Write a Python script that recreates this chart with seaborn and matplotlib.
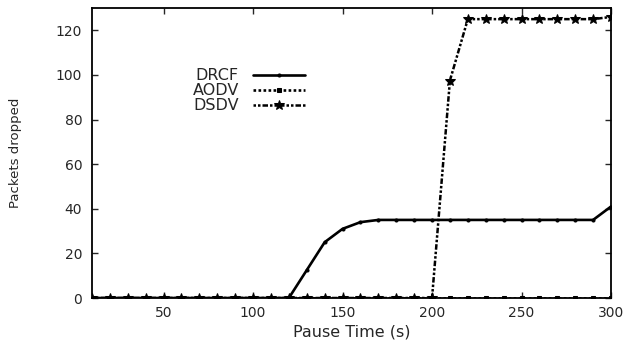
import matplotlib
matplotlib.use("Agg")
import matplotlib.pyplot as plt
import seaborn as sns
import pandas as pd

pause_time = [10, 20, 30, 40, 50, 60, 70, 80, 90, 100, 110, 120, 130, 140, 150,
              160, 170, 180, 190, 200, 210, 220, 230, 240, 250, 260, 270, 280, 290, 300]
drcf = [0, 0, 0, 0, 0, 0, 0, 0, 0, 0, 0, 0, 12.5, 25, 31,
        34, 35, 35, 35, 35, 35, 35, 35, 35, 35, 35, 35, 35, 35, 41]
aodv = [0] * 30
dsdv = [0, 0, 0, 0, 0, 0, 0, 0, 0, 0, 0, 0, 0, 0, 0,
        0, 0, 0, 0, 0, 97.5, 125, 125, 125, 125, 125, 125, 125, 125, 126]

series_names = ["DRCF", "AODV", "DSDV"]
series_values = [drcf, aodv, dsdv]
x_ticks = [50, 100, 150, 200, 250, 300]
y_ticks = [0, 20, 40, 60, 80, 100, 120]

sns.set_style("ticks")
plt.rcParams['font.family'] = ['DejaVu Sans']

fig = plt.figure(figsize=(6.26, 3.45), dpi=100)
ax = fig.add_axes([92/626, 1 - 298/345, 519/626, 290/345])

styles = {
    "DRCF": dict(linestyle='-', marker='o', markersize=2.2, linewidth=1.9),
    "AODV": dict(linestyle=(0, (1.0, 0.9)), marker='s', markersize=3.5, linewidth=1.9),
    "DSDV": dict(linestyle=(0, (1.0, 0.8, 1.0, 0.8, 2.2, 0.8)), marker='*', markersize=7, linewidth=1.8),
}

for name, vals in zip(series_names, series_values):
    df = pd.DataFrame({"x": pause_time, "y": vals})
    sns.lineplot(data=df, x="x", y="y", ax=ax, color='black', label=name,
                 markeredgecolor='black', markerfacecolor='black', **styles[name])

ax.set_xlim(10, 300)
ax.set_ylim(0, 130)
ax.set_xticks(x_ticks)
ax.set_yticks(y_ticks)
ax.tick_params(direction='in', top=True, right=True, labelsize=10, length=4, width=1)
ax.tick_params(axis='x', pad=6)
ax.tick_params(axis='y', pad=7)
for sp in ax.spines.values():
    sp.set_linewidth(1.3)
    sp.set_color('black')
ax.set_xlabel("Pause Time (s)", fontsize=11.5)
ax.set_ylabel("Packets dropped", fontsize=9.5)
ax.xaxis.set_label_coords(0.5, -0.09)
ax.yaxis.set_label_coords(-0.135, 0.5)

leg = ax.legend(loc='upper right', bbox_to_anchor=(0.426, 0.82), frameon=False,
                markerfirst=False, fontsize=11.5, handlelength=3.25, labelspacing=0.0,
                handletextpad=0.9, borderpad=0)
for t in leg.get_texts():
    t.set_ha('right')

fig.savefig("out.png", dpi=100)
